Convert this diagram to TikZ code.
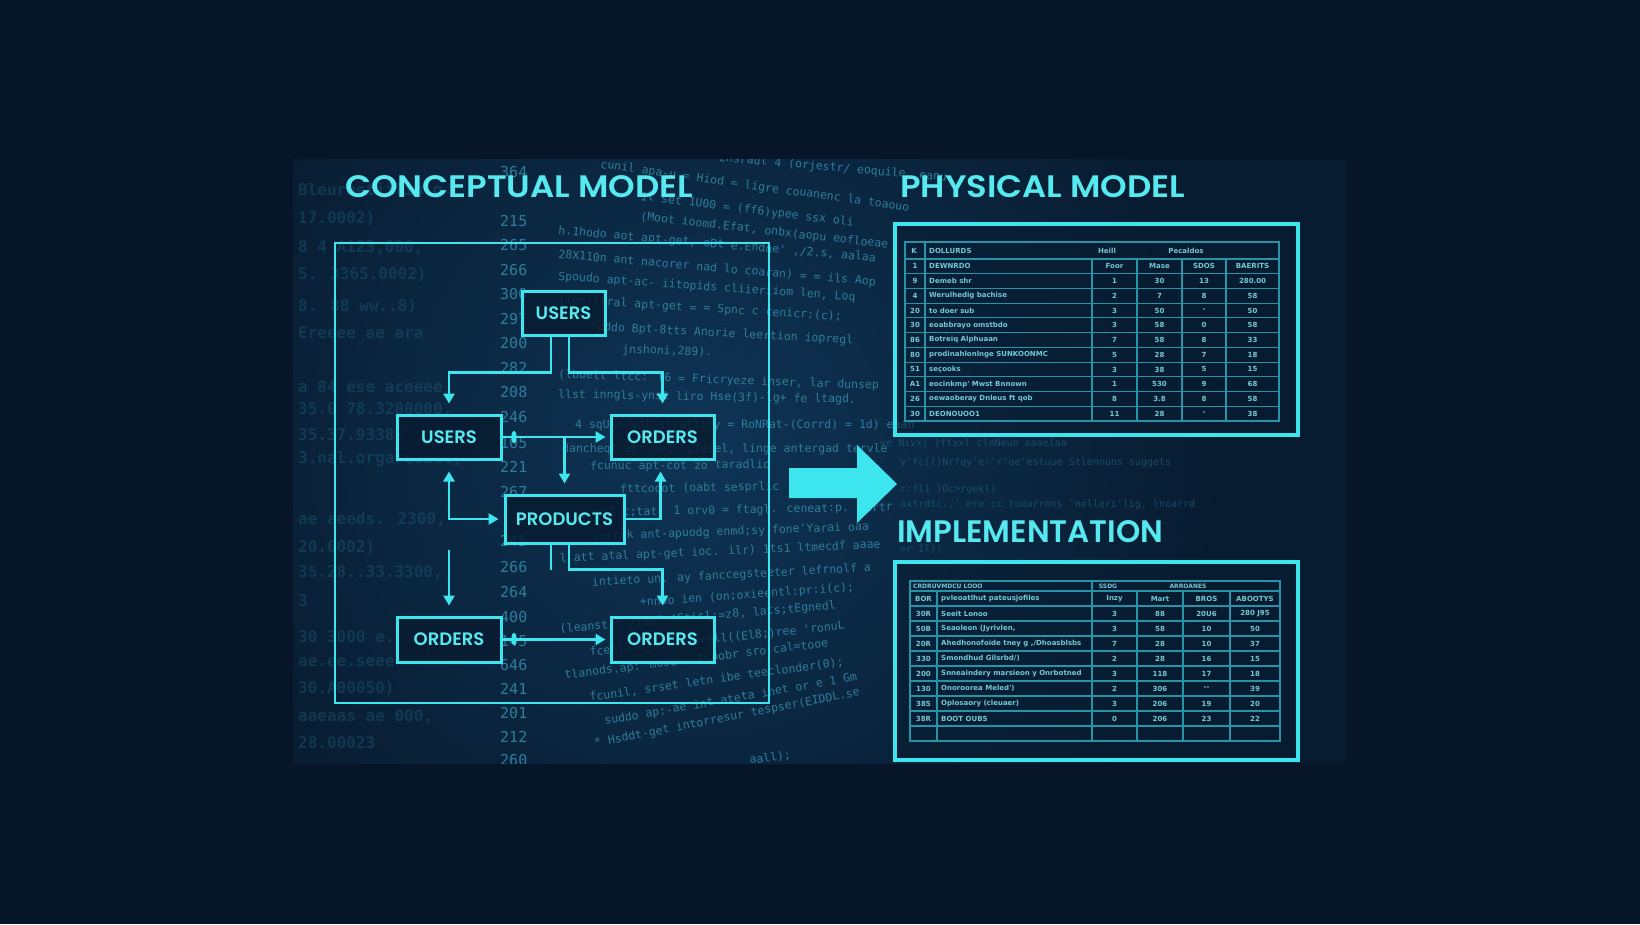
\documentclass[tikz,border=0pt]{standalone}
\usepackage{fontspec}
\setmainfont{Poppins}
\newfontfamily\semib{Poppins SemiBold}
\newfontfamily\monof{DejaVu Sans Mono}
\newfontfamily\tabf{DejaVu Sans}
\usetikzlibrary{arrows.meta,calc}
\definecolor{bgout}{HTML}{061527}
\definecolor{panelA}{HTML}{0E3455}
\definecolor{panelB}{HTML}{081C31}
\definecolor{cyanL}{HTML}{3DE6EE}
\definecolor{cyanT}{HTML}{56EAF0}
\definecolor{gridC}{HTML}{2793A6}
\definecolor{tabT}{HTML}{74C8D4}
\definecolor{codeC}{HTML}{2E7D99}
\definecolor{codeD}{HTML}{1C5673}
\newcommand\titlefont{\semib\fontsize{31}{31}\selectfont}
\newcommand\boxfont{\semib\fontsize{18}{18}\selectfont}
\newcommand\tabfont{\tabf\fontsize{7}{7}\selectfont\bfseries}
\newcommand\tabhfont{\tabf\fontsize{6}{6}\selectfont\bfseries}
\newcommand\codefont{\monof\fontsize{11.5}{11.5}\selectfont}
\newcommand\numfont{\monof\fontsize{15}{15}\selectfont}
\newcommand\blurfont{\monof\fontsize{16}{16}\selectfont\bfseries}
\newcommand\farfont{\monof\fontsize{10}{10}\selectfont}
\begin{document}
\begin{tikzpicture}[x=1pt,y=-1pt,
 ebox/.style={draw=cyanL, line width=3pt, fill=panelB, fill opacity=0.85, text opacity=1, text=cyanT, font=\boxfont, minimum height=44pt, inner sep=0pt},
 conn/.style={draw=cyanL, line width=2.7pt},
 arr/.style={conn, -{Triangle[width=11pt,length=10pt]}},
 darr/.style={conn, {Triangle[width=11pt,length=10pt]}-{Triangle[width=11pt,length=10pt]}},
 title/.style={text=cyanT, font=\titlefont, anchor=base west, inner sep=0pt},
 frame/.style={draw=cyanL, line width=3.5pt},
 gridl/.style={draw=gridC, line width=1.1pt},
 tcell/.style={text=tabT, font=\tabfont, inner sep=0pt},
 thcell/.style={text=tabT, font=\tabhfont, inner sep=0pt},
 code/.style={text=codeC, font=\codefont, anchor=base west, inner sep=0pt},
 lnum/.style={text=codeC, font=\numfont, anchor=west, inner sep=0pt},
 blur/.style={text=codeD, font=\blurfont, anchor=west, inner sep=0pt, opacity=0.45},
 far/.style={text=codeD, font=\farfont, anchor=base west, inner sep=0pt, opacity=0.8},
]
\useasboundingbox (0,0) rectangle (1640,924);
\fill[bgout] (0,0) rectangle (1640,924);
% panel
\fill[panelB] (293,159) rectangle (1346,763);
\begin{scope}
\clip (293,159) rectangle (1346,763);
\shade[inner color=panelA, outer color=panelB] (700,440) circle (520);
% left blurred code
\foreach \yy/\t in {191/{Bleuruetiilinlg}, 218/{17.0002)}, 248/{8 4 A123,000,}, 274/{5. 3365.0002)}, 306/{8. 88 ww..8)}, 333/{Ereeee ae ara}, 387/{a 84 ese aceeee}, 410/{35.0 78.3280000,}, 435/{35.37.93385}, 459/{3.nal.orgareeEll]}, 520/{ae aeeds. 2300,}, 547/{20.0002)}, 573/{35.28..33.3300,}, 601/{3}, 637/{30 3000 e...}, 662/{ae.ee.seee}, 688/{30.A00050)}, 717/{aaeaas ae 000,}, 743/{28.00023}}
 \node[blur] at (298,\yy) {\t};
% line numbers
\foreach \yy/\t [count=\k] in {172/364, 221/215, 245/265, 270/266, 294/300, 319/297, 343/200, 368/282, 392/208, 417/246, 443/105, 467/221, 492/267, 541/245, 567/266, 592/264, 617/400, 641/145, 665/646, 689/241, 713/201, 737/212, 760/260}
 \node[lnum] (ln\k) at (500,\yy) {\t};
% code lines
\foreach \xx/\yy/\r/\t [count=\k] in {
 600/168/-8/{cunil apa-u = Hiod = ligre couanenc la toaouo},
 705/160/-5/{- znsraut 4 (orjestr/ eoquile, eanu},
 640/200/-7/{1l set 1U00 = (ff6)ypee ssx oli},
 640/220/-6.5/{(Moot ioomd.Efat, onbx(aopu eofloeae},
 558/234/-5/{h.1hodo aot apt-get, oBt e.Endne' ,/2.s, aalaa},
 558/258/-5/{28X110n ant nacorer nad lo coaran) = = ils Aop},
 558/280/-4/{Spoudo apt-ac- iitopids cliieriiom len, Loq},
 558/303/-3.5/{(fgrlllral apt-get = = Spnc c cenicr:(c);},
 590/330/-3/{*oddo Bpt-8tts Anorie leertion iopregl},
 622/353/-2/{jnshoni,289).},
 558/378/-2/{(lbuelt  ltcc: l6 = Fricryeze inser, lar dunsep},
 558/398/-1/{llst inngls-ynst liro Hse(3f)-lg+ fe ltagd.},
 575/428/0/{4 sqUlr anl slratficy = RoNRat-(Corrd) = 1d) eaan},
 562/452/0/{dancheqt apt-get, cterel, linge antergad tervle},
 590/470/0.5/{fcunuc apt-cot zo taradlio},
 620/493/1/{fttcodot (oabt sesprlic},
 595/516/1/{ert  t;tat: 1 orv0 = ftagl. ceneat:p. lertr},
 592/540/2/{ierrck ant-apuodg enmd;sy fone'Yarai oaa},
 560/562/2.5/{l att atal apt-get ioc. ilr) 1ts1 ltmecdf aaae},
 592/586/3/{intieto un. ay fanccegsteeter lefrnolf a},
 640/606/4/{+nndo ien (on;oxieentl:pr:i(c);},
 560/633/5/{(leanst t /(so' (Gtisl:=z8, lats;tEgnedl},
 590/656/6/{fcetlel8 sal-= erell((El8;)ree 'ronuL},
 565/679/7/{tlanods.ap: mo3d = tcpobr sro cal=tooe},
 590/701/8/{fcunil, srset letn ibe teeclonder(0);},
 605/725/10/{suddo ap:-ae int ateta inet or e 1 Gm},
 595/747/11/{* Hsddt-get intorresur tespser(EIDDL.se},
 750/764/8/{aall);}}
 \node[code, rotate=\r] (cl\k) at (\xx,\yy) {\t};
% far faint lines
\node[far] (f1) at (900,465) {y'fc[()Nrfqy'e-'r'oe'estuue Stlennuns suggets};
\node[far] (f2) at (900,492) {r:fl1 )Oc>rgekl)};
\node[far] (f3) at (900,507) {axtrdtc.,' ere cc tuearrnns 'nelleri'lig, lnoarrd};
\node[far] (f4) at (900,552) {=r Il);};
\node[far] (f5) at (880,446) {ye Nivx[ )ffxxl cleNeun eaaelaa};
\end{scope}
% titles
\node[title] (t1) at (345,197) {\resizebox{348pt}{22pt}{CONCEPTUAL MODEL}};
\node[title] (t2) at (900,197) {\resizebox{285pt}{22pt}{PHYSICAL MODEL}};
\node[title] (t3) at (897,542) {\resizebox{266pt}{22pt}{IMPLEMENTATION}};
% conceptual frame
\draw[cyanL, line width=2.6pt] (335,243) rectangle (769,703);
% entity boxes
\node[ebox, minimum width=83pt] (ut) at (563.5,313) {USERS};
\node[ebox, minimum width=104pt] (ul) at (449,437) {USERS};
\node[ebox, minimum width=103pt] (or1) at (662.5,437) {ORDERS};
\node[ebox, minimum width=119pt, minimum height=48pt] (pr) at (564.5,519) {PRODUCTS};
\node[ebox, minimum width=104pt, minimum height=45pt] (ob) at (449,639.5) {ORDERS};
\node[ebox, minimum width=103pt, minimum height=45pt] (or2) at (662.5,639.5) {ORDERS};
% connectors
\draw[arr] ([xshift=-12.5pt]ut.south) -- ++(0,36) -| ([yshift=10pt]ul.north);
\draw[arr] ([xshift=5.5pt]ut.south) -- ++(0,36) -| ([yshift=10pt]or1.north);
\draw[arr] (ul.east) -- ([xshift=-4pt]or1.west);
\fill[cyanL] (514,437) ellipse (2.6 and 6.5);
\draw[arr] (pr.north |- ul.east) -- ([yshift=10pt]pr.north);
\draw[darr] ([yshift=-11pt]ul.south) |- ([xshift=-5pt]pr.west);
\draw[arr] (pr.east) -| ([yshift=-11pt,xshift=-2pt]or1.south);
\draw[conn] ([xshift=-13.5pt]pr.south) -- ++(0,25);
\draw[arr] ([xshift=4.5pt]pr.south) -- ++(0,25) -| ([yshift=10pt]or2.north);
\coordinate (ld) at (449,550);
\draw[arr] (ld) -- ([yshift=10pt]ob.north);
\draw[arr] (ob.east) -- ([xshift=-4pt]or2.west);
\fill[cyanL] (514,639) ellipse (2.6 and 6.5);
% big arrow
\fill[cyanL] (789,468) -- (857,468) -- (857,445) -- (897,484) -- (857,523) -- (857,498) -- (789,498) -- cycle;
% ---------- physical model table
\fill[panelB, opacity=0.5] (895,224) rectangle (1298,435);
\draw[frame] (895,224) rectangle (1298,435);
\draw[gridl] (905,242) rectangle (1279,421);
\draw[gridl] (905,259) -- (1279,259);
\foreach \k in {1,...,10} \draw[gridl] (905,{259+\k*14.727}) -- (1279,{259+\k*14.727});
\draw[gridl] (925,242) -- (925,421);
\foreach \xx in {1092,1137,1182,1226} \draw[gridl] (\xx,259) -- (\xx,421);
\node[tcell] (ph0) at (914,250.5) {K};
\node[tcell, anchor=west] (ph1) at (929,250.5) {DOLLURDS};
\node[tcell] (ph2) at (1107,250.5) {Heill};
\node[tcell] (ph3) at (1186,250.5) {Pecaldos};
\foreach \a/\b/\c/\d/\e/\f [count=\k] in {
 1/DEWNRDO/Foor/Mase/SDOS/BAERITS,
 9/Demeb shr/1/30/13/280.00,
 4/Werulhedig bachise/2/7/8/58,
 20/to doer sub/3/50/-/50,
 30/eoabbrayo omstbdo/3/58/0/58,
 86/Botreiq Alphuaan/7/58/8/33,
 80/prodinahlonlnge SUNKOONMC/5/28/7/18,
 51/seçooks/3/38/5/15,
 A1/eocinkmp' Mwst Bnnown/1/530/9/68,
 26/oewaoberay Dnleus ft qob/8/3.8/8/58,
 30/DEONOUOO1/11/28/-/38}
{
 \pgfmathsetmacro\yy{259+(\k-0.5)*14.727}
 \node[tcell] (pa\k) at (915,\yy) {\a};
 \node[tcell, anchor=west] (pb\k) at (929,\yy) {\b};
 \node[tcell] (pc\k) at (1114.5,\yy) {\c};
 \node[tcell] (pd\k) at (1159.5,\yy) {\d};
 \node[tcell] (pe\k) at (1204,\yy) {\e};
 \node[tcell] (pf\k) at (1252.5,\yy) {\f};
}
% ---------- implementation table
\fill[panelB, opacity=0.5] (895,562) rectangle (1298,760);
\draw[frame] (895,562) rectangle (1298,760);
\draw[gridl] (910,581) rectangle (1280,741);
\draw[gridl] (910,591) -- (1280,591);
\foreach \k in {1,...,9} \draw[gridl] (910,{591+\k*15}) -- (1280,{591+\k*15});
\draw[gridl] (1092,581) -- (1092,741);
\foreach \xx in {937,1137,1183,1230} \draw[gridl] (\xx,591) -- (\xx,741);
\node[thcell, anchor=west] (ih1) at (913,586) {CRDRUVMDCU LOOO};
\node[thcell] (ih2) at (1108,586) {SSDG};
\node[thcell] (ih3) at (1188,586) {ARROANES};
\foreach \a/\b/\c/\d/\e/\f [count=\k] in {
 BOR/pvleoatlhut pateusjofiles/Inzy/Mart/BROS/ABOOTYS,
 30R/Seeit Lonoo/3/88/20U6/280 J95,
 50B/{Seaoleon (Jyrivlen,}/3/58/10/50,
 20R/{Ahedhonofoide tney g ,/Dhoasblsbs}/7/28/10/37,
 330/{Smondhud Gilsrbd/)}/2/28/16/15,
 200/Snneaindery marsieon y Onrbotned/3/118/17/18,
 130/Onoroorea Meled')/2/306/--/39,
 385/Oplosaory (cleuaer)/3/206/19/20,
 38R/BOOT OUBS/0/206/23/22}
{
 \pgfmathsetmacro\yy{591+(\k-0.5)*15}
 \node[tcell] (ia\k) at (923.5,\yy) {\a};
 \node[tcell, anchor=west] (ib\k) at (941,\yy) {\b};
 \node[tcell] (ic\k) at (1114.5,\yy) {\c};
 \node[tcell] (id\k) at (1160,\yy) {\d};
 \node[tcell] (ie\k) at (1206.5,\yy) {\e};
 \node[tcell] (if\k) at (1255,\yy) {\f};
}
\end{tikzpicture}
\end{document}
